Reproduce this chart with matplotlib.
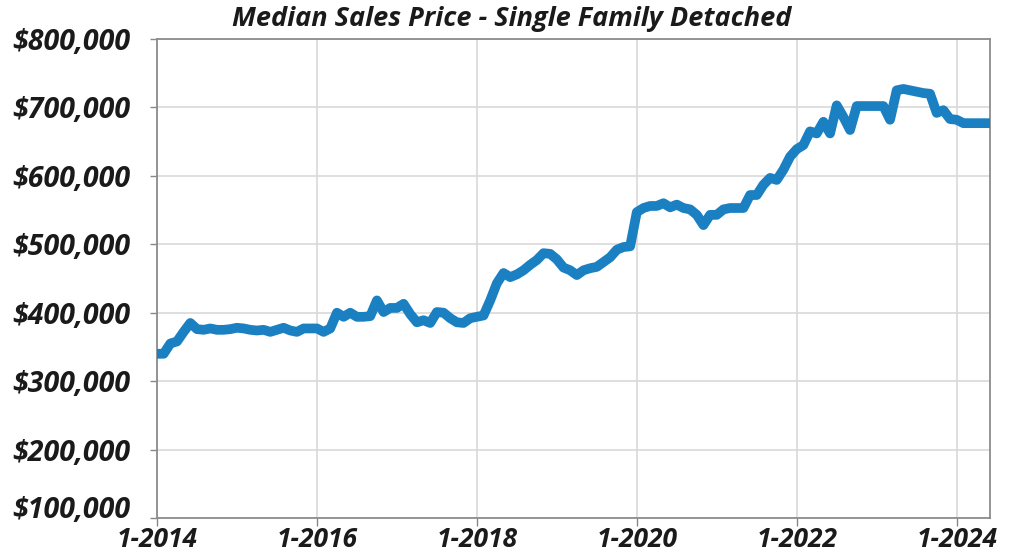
import matplotlib
matplotlib.use("Agg")
import matplotlib.pyplot as plt
import matplotlib.transforms as mtransforms
import numpy as np
from matplotlib.ticker import FuncFormatter

# Monthly median sales price, Jan 2014 .. Jun 2024 (thousands of $)
prices_k = [
    # 2014
    340, 340, 355, 358, 372, 385, 376, 375, 377, 375, 375, 376,
    # 2015
    378, 377, 375, 374, 375, 372, 375, 378, 374, 372, 377, 377,
    # 2016
    377, 372, 377, 400, 394, 400, 394, 394, 395, 418, 401, 407,
    # 2017
    407, 413, 398, 386, 389, 385, 401, 400, 392, 386, 385, 392,
    # 2018
    394, 396, 418, 443, 458, 452, 456, 462, 470, 477, 487, 486,
    # 2019
    478, 466, 462, 455, 462, 465, 467, 474, 481, 492, 496, 497,
    # 2020
    547, 553, 556, 556, 560, 554, 558, 553, 551, 543, 528, 543,
    # 2021
    543, 551, 553, 553, 553, 572, 572, 587, 597, 594, 609, 628,
    # 2022
    639, 645, 665, 662, 679, 662, 703, 686, 667, 702, 702, 702,
    # 2023
    702, 702, 682, 725, 727, 725, 723, 721, 720, 692, 696, 683,
    # 2024
    682, 677, 677, 677, 677, 677,
]
x_tick_months = [0, 24, 48, 72, 96, 120]
x_tick_labels = ["1-2014", "1-2016", "1-2018", "1-2020", "1-2022", "1-2024"]
y_ticks = [100000, 200000, 300000, 400000, 500000, 600000, 700000, 800000]
title = "Median Sales Price - Single Family Detached"

fam = ["Liberation Sans Narrow", "Open Sans", "DejaVu Sans"]
plt.rcParams["font.family"] = fam

fig = plt.figure(figsize=(10.18, 5.54), dpi=100)
ax = fig.add_axes([157/1018, 1 - 518/554, (990-157)/1018, (518-39)/554])

months = np.arange(len(prices_k))
vals = np.array(prices_k) * 1000
ax.plot(months, vals, color="#1a80c2", lw=7, solid_joinstyle="round", solid_capstyle="round", zorder=3)

ax.set_xlim(0, len(prices_k) - 1)
ax.set_ylim(100000, 800000)
ax.set_yticks(y_ticks)
ax.yaxis.set_major_formatter(FuncFormatter(lambda v, p: "${:,.0f}".format(v)))
ax.set_xticks(x_tick_months)
ax.set_xticklabels(x_tick_labels)

for lab in ax.get_yticklabels():
    lab.set_fontweight("bold")
    lab.set_fontstyle("italic")
    lab.set_fontsize(20.5)
    lab.set_color("#1a1a1a")
for lab in ax.get_xticklabels():
    lab.set_fontweight("bold")
    lab.set_fontstyle("italic")
    lab.set_fontsize(19)
    lab.set_color("#1a1a1a")

ax.tick_params(axis="y", length=5, width=1, color="#888888", pad=14)
ax.tick_params(axis="x", length=6, width=1, color="#888888", pad=0)
ax.grid(True, color="#d9d9d9", lw=1.2)
ax.set_axisbelow(True)
for s in ax.spines.values():
    s.set_color("#8c8c8c")
    s.set_linewidth(1.3)

# lowest y label sits a bit above its tick, as in the reference
fig.canvas.draw()
ylabs = ax.get_yticklabels()
ylabs[0].set_transform(ylabs[0].get_transform() +
                       mtransforms.ScaledTranslation(0, 11/100, fig.dpi_scale_trans))

fig.text(512/1018, 1 - 19/554, title, ha="center", va="center",
         fontsize=19.5, fontweight="bold", fontstyle="italic", color="#1a1a1a")

fig.savefig("out.png", dpi=100)
